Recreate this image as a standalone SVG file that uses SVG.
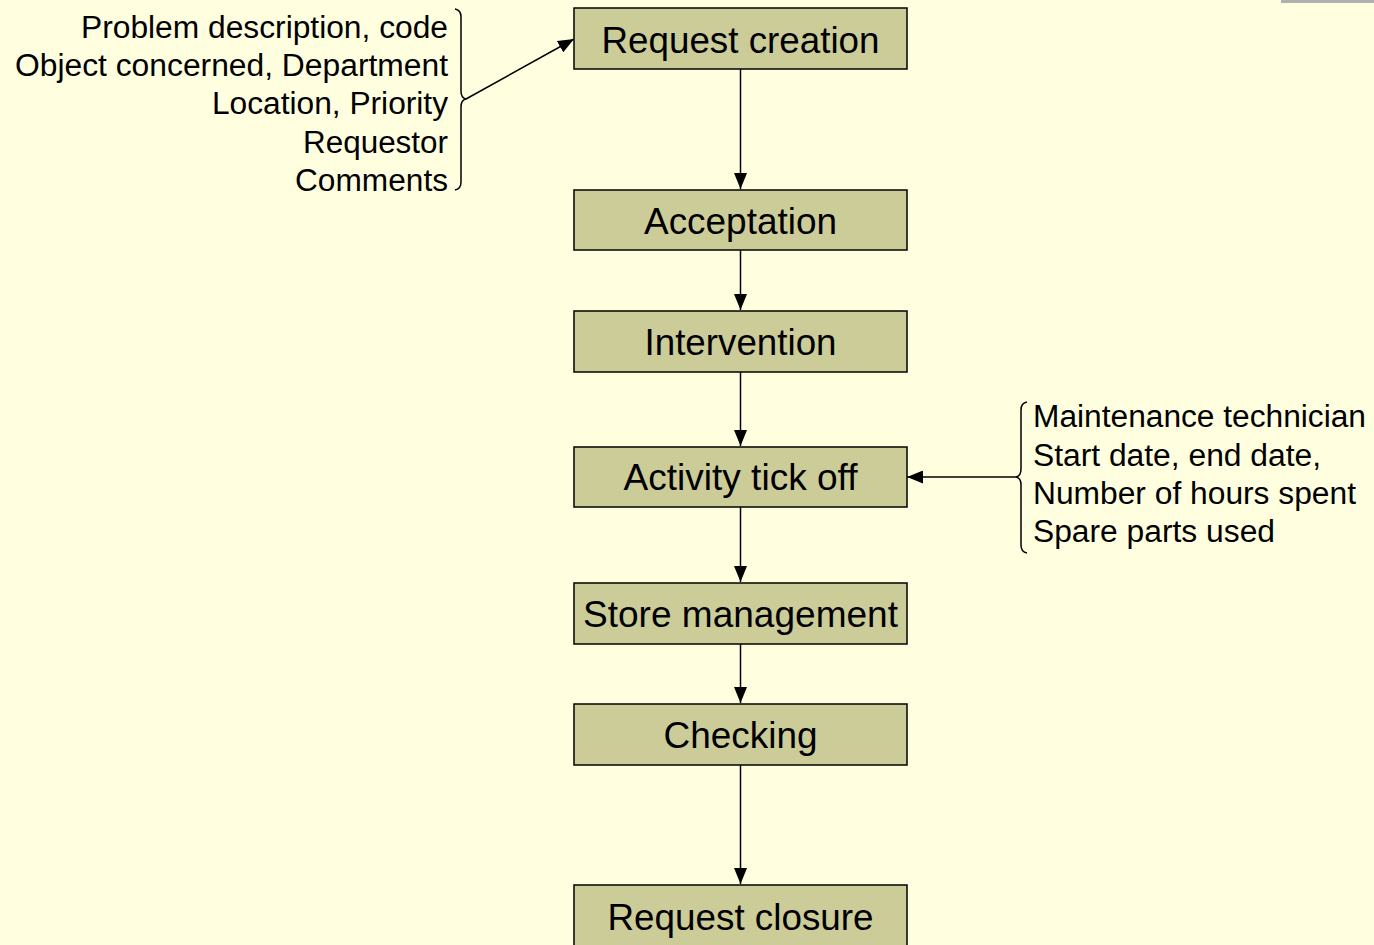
<svg xmlns="http://www.w3.org/2000/svg" width="1374" height="945" viewBox="0 0 1374 945">
  <style>
    .box { fill: #CCCC99; stroke: #000; stroke-width: 1.5; }
    .label { font-family: "Liberation Sans", Arial, sans-serif; font-size: 36px; fill: #000; text-anchor: middle; }
    .note { font-family: "Liberation Sans", Arial, sans-serif; font-size: 31px; fill: #000; }
    .edge { stroke: #000; stroke-width: 1.5; fill: none; }
    .brace { stroke: #000; stroke-width: 1.5; fill: none; }
  </style>
  <defs>
    <marker id="head" viewBox="0 0 16 13" refX="16" refY="6.5" markerWidth="16" markerHeight="13" markerUnits="userSpaceOnUse" orient="auto">
      <path d="M0,0 L16,6.5 L0,13 Z" fill="#000"/>
    </marker>
  </defs>

  <rect x="0" y="0" width="1374" height="945" fill="#FFFFE0"/>
  <rect x="1281" y="0" width="93" height="3" fill="#B0B0B0"/>

  <!-- connectors -->
  <g id="connectors">
    <line class="edge" x1="740.5" y1="69" x2="740.5" y2="189" marker-end="url(#head)"/>
    <line class="edge" x1="740.5" y1="250" x2="740.5" y2="310" marker-end="url(#head)"/>
    <line class="edge" x1="740.5" y1="372" x2="740.5" y2="446" marker-end="url(#head)"/>
    <line class="edge" x1="740.5" y1="507" x2="740.5" y2="582" marker-end="url(#head)"/>
    <line class="edge" x1="740.5" y1="644" x2="740.5" y2="703" marker-end="url(#head)"/>
    <line class="edge" x1="740.5" y1="765" x2="740.5" y2="884" marker-end="url(#head)"/>
    <line class="edge" x1="466" y1="99" x2="574" y2="39" marker-end="url(#head)"/>
    <line class="edge" x1="1016" y1="477" x2="907" y2="477" marker-end="url(#head)"/>
  </g>

  <!-- process steps -->
  <g id="request-creation">
    <rect class="box" x="574" y="8" width="333" height="61"/>
    <text class="label" x="740.5" y="53" textLength="278" lengthAdjust="spacingAndGlyphs">Request creation</text>
  </g>
  <g id="acceptation">
    <rect class="box" x="574" y="190" width="333" height="60"/>
    <text class="label" x="740.5" y="234" textLength="193" lengthAdjust="spacingAndGlyphs">Acceptation</text>
  </g>
  <g id="intervention">
    <rect class="box" x="574" y="311" width="333" height="61"/>
    <text class="label" x="740.5" y="355" textLength="192" lengthAdjust="spacingAndGlyphs">Intervention</text>
  </g>
  <g id="activity-tick-off">
    <rect class="box" x="574" y="447" width="333" height="60"/>
    <text class="label" x="740.5" y="490" textLength="234" lengthAdjust="spacingAndGlyphs">Activity tick off</text>
  </g>
  <g id="store-management">
    <rect class="box" x="574" y="583" width="333" height="61"/>
    <text class="label" x="740.5" y="627" textLength="315" lengthAdjust="spacingAndGlyphs">Store management</text>
  </g>
  <g id="checking">
    <rect class="box" x="574" y="704" width="333" height="61"/>
    <text class="label" x="740.5" y="748" textLength="154" lengthAdjust="spacingAndGlyphs">Checking</text>
  </g>
  <g id="request-closure">
    <rect class="box" x="574" y="885" width="333" height="70"/>
    <text class="label" x="740.5" y="930" textLength="266" lengthAdjust="spacingAndGlyphs">Request closure</text>
  </g>

  <!-- request data fields -->
  <g id="request-fields">
    <path class="brace" d="M455,9 Q461,10 461,17 L461,91 Q461,98 466,99 Q461,100 461,107 L461,182 Q461,189 455,190"/>
    <text class="note" x="448" y="38" text-anchor="end" textLength="367" lengthAdjust="spacingAndGlyphs">Problem description, code</text>
    <text class="note" x="448" y="76" text-anchor="end" textLength="433" lengthAdjust="spacingAndGlyphs">Object concerned, Department</text>
    <text class="note" x="448" y="114" text-anchor="end" textLength="236" lengthAdjust="spacingAndGlyphs">Location, Priority</text>
    <text class="note" x="448" y="153" text-anchor="end" textLength="145" lengthAdjust="spacingAndGlyphs">Requestor</text>
    <text class="note" x="448" y="191" text-anchor="end" textLength="153" lengthAdjust="spacingAndGlyphs">Comments</text>
  </g>

  <!-- activity data fields -->
  <g id="activity-fields">
    <path class="brace" d="M1027,402 Q1021,403 1021,410 L1021,469 Q1021,476 1016,477 Q1021,478 1021,485 L1021,545 Q1021,552 1027,553"/>
    <text class="note" x="1033" y="427" textLength="333" lengthAdjust="spacingAndGlyphs">Maintenance technician</text>
    <text class="note" x="1033" y="466" textLength="288" lengthAdjust="spacingAndGlyphs">Start date, end date,</text>
    <text class="note" x="1033" y="504" textLength="323" lengthAdjust="spacingAndGlyphs">Number of hours spent</text>
    <text class="note" x="1033" y="542" textLength="242" lengthAdjust="spacingAndGlyphs">Spare parts used</text>
  </g>
</svg>
